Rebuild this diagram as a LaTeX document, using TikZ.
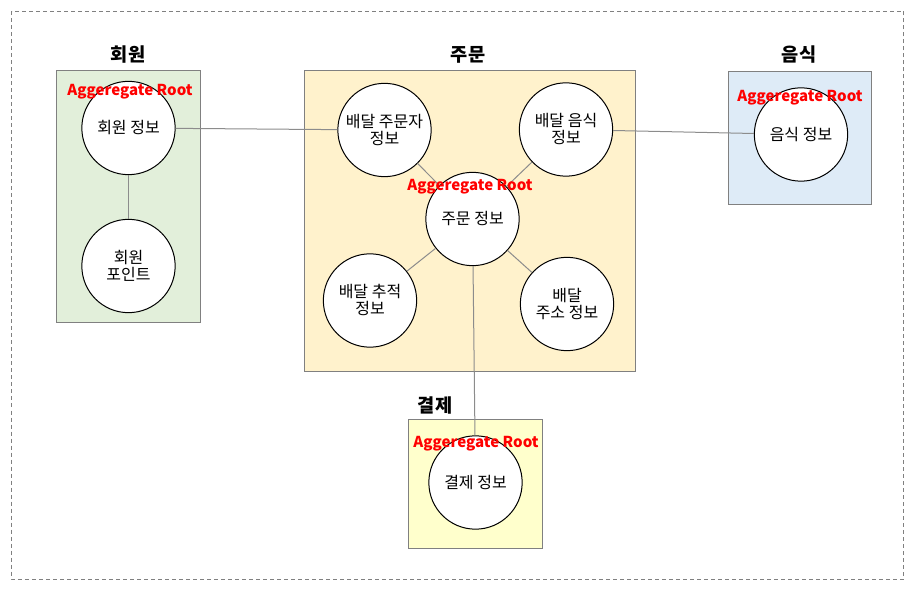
\documentclass[tikz,border=0pt]{standalone}
\usepackage{fontspec}
\setmainfont{Noto Sans CJK KR}
\definecolor{boxgray}{RGB}{128,128,128}
\definecolor{linegray}{RGB}{140,140,140}
\definecolor{memberfill}{RGB}{226,239,218}
\definecolor{orderfill}{RGB}{255,242,204}
\definecolor{foodfill}{RGB}{222,235,247}
\definecolor{payfill}{RGB}{255,255,204}
\tikzset{
  entity/.style={circle, draw=black, fill=white, line width=0.75pt, minimum size=70pt, inner sep=0pt, align=center, font=\fontsize{12}{12.75}\selectfont},
  ctxbox/.style={draw=boxgray, line width=0.75pt},
  ctxtitle/.style={font=\bfseries\fontsize{14}{16}\selectfont},
  rootlabel/.style={text=red, font=\bfseries\fontsize{11.3}{13}\selectfont, inner sep=0pt},
  link/.style={draw=linegray, line width=0.75pt}
}
\begin{document}
\begin{tikzpicture}[x=0.75pt,y=0.75pt,yscale=-1]
\useasboundingbox (0,0) rectangle (917,591);

%Shape: Rectangle (outer)
\draw [boxgray, line width=0.75pt, dash pattern=on 3pt off 2.25pt] (11.5,11.5) rectangle (903.5,579);

%Shape: Rectangle
\draw [ctxbox, fill=memberfill] (56.5,71) rectangle (200.5,323);
\draw [ctxbox, fill=orderfill] (304.5,70.5) rectangle (635,372);
\draw [ctxbox, fill=foodfill] (728.5,71.5) rectangle (871.5,205);
\draw [ctxbox, fill=payfill] (408.5,419.5) rectangle (542.5,548);

% Text Node
\node (membertitle) at (128,55) [ctxtitle] {회원};
\node (ordertitle) at (468,55) [ctxtitle] {주문};
\node (foodtitle) at (799,55) [ctxtitle] {음식};
\node (paytitle) at (435,405) [ctxtitle] {결제};

%Shape: Circle
\node (memberinfo) at (128.5,128) [entity] {회원 정보};
\node (memberpoint) at (128.5,266) [entity] {회원\\포인트};
\node (orderer) at (384.5,130) [entity] {배달 주문자\\정보};
\node (orderfood) at (566,129.5) [entity] {배달 음식\\정보};
\node (orderinfo) at (472.5,219) [entity] {주문 정보};
\node (tracking) at (370,300.5) [entity] {배달 추적\\정보};
\node (address) at (567,304) [entity] {배달\\주소 정보};
\node (foodinfo) at (801,134.5) [entity] {음식 정보};
\node (payinfo) at (475.5,482.5) [entity] {결제 정보};

%Straight Lines
\draw [link] (memberinfo) -- (memberpoint);
\draw [link] (memberinfo) -- (orderer);
\draw [link] (orderfood) -- (foodinfo);
\draw [link] (orderinfo) -- (orderer);
\draw [link] (orderinfo) -- (orderfood);
\draw [link] (orderinfo) -- (tracking);
\draw [link] (orderinfo) -- (address);
\draw [link] (orderinfo) -- (payinfo);

% Text Node
\node (memberroot) at (130,92) [rootlabel] {Aggeregate Root};
\node (orderroot) at (470,187) [rootlabel] {Aggeregate Root};
\node (foodroot) at (800,98) [rootlabel] {Aggeregate Root};
\node (payroot) at (476,443.5) [rootlabel] {Aggeregate Root};

\end{tikzpicture}
\end{document}
